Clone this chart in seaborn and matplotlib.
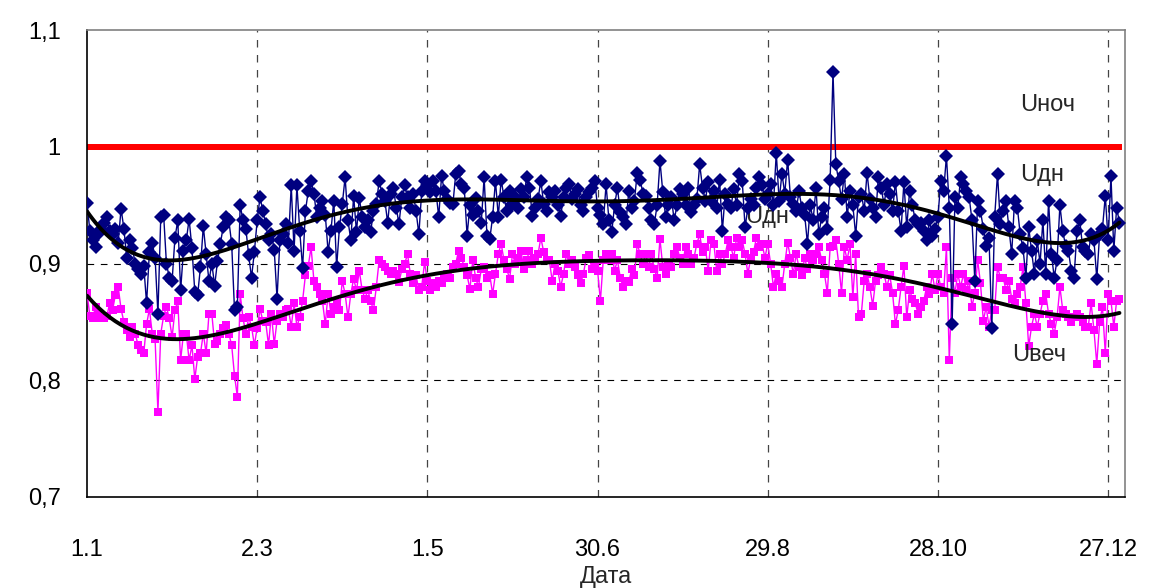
import matplotlib
matplotlib.use("Agg")
import matplotlib.pyplot as plt
import numpy as np
import seaborn as sns

sns.set_theme(style="white")
plt.rcParams["font.family"] = ["Liberation Sans", "DejaVu Sans"]

# daily values, 1 Jan .. 31 Dec (thousandths of nominal voltage)
u_dn = [
    952, 928, 920, 914, 925, 930, 935, 940, 928, 925,
    930, 918, 947, 930, 905, 920, 913, 900, 895, 891,
    898, 866, 910, 918, 905, 857, 940, 942, 900, 888,
    885, 922, 937, 877, 911, 920, 938, 913, 876, 873,
    897, 932, 908, 885, 900, 881, 902, 917, 931, 940,
    937, 917, 860, 863, 950, 937, 930, 907, 888, 910,
    937, 957, 945, 934, 920, 925, 912, 870, 920, 925,
    934, 918, 967, 911, 967, 928, 896, 945, 962, 971,
    960, 940, 948, 954, 942, 910, 928, 954, 897, 931,
    951, 974, 937, 920, 958, 927, 956, 940, 931, 937,
    927, 945, 951, 971, 960, 954, 935, 960, 965, 948,
    934, 957, 967, 957, 948, 960, 945, 925, 962, 971,
    967, 961, 971, 962, 940, 975, 962, 955, 952, 951,
    977, 979, 968, 965, 924, 950, 942, 956, 945, 935,
    974, 924, 921, 940, 971, 940, 972, 957, 945, 962,
    951, 957, 948, 964, 957, 974, 965, 941, 948, 955,
    971, 951, 945, 961, 957, 962, 950, 941, 957, 965,
    968, 955, 960, 964, 950, 945, 957, 961, 965, 971,
    948, 942, 934, 968, 937, 927, 950, 965, 944, 940,
    934, 962, 948, 954, 978, 972, 960, 958, 948, 937,
    934, 950, 988, 961, 940, 950, 957, 937, 950, 964,
    960, 950, 965, 944, 950, 955, 985, 965, 954, 970,
    954, 962, 948, 972, 928, 960, 951, 948, 964, 950,
    977, 971, 931, 948, 955, 950, 965, 974, 967, 955,
    960, 968, 950, 995, 954, 977, 960, 989, 957, 951,
    945, 962, 948, 942, 917, 950, 937, 965, 925, 940,
    948, 930, 972, 1064, 985, 971, 955, 977, 940, 962,
    950, 924, 957, 960, 945, 978, 955, 948, 940, 974,
    965, 950, 968, 960, 945, 970, 945, 928, 970, 931,
    962, 950, 937, 934, 935, 928, 920, 937, 924, 930,
    940, 971, 962, 992, 948, 848, 957, 948, 974, 968,
    962, 957, 937, 885, 954, 945, 930, 915, 922, 845,
    940, 977, 934, 945, 954, 931, 908, 954, 948, 925,
    913, 888, 931, 911, 891, 920, 900, 937, 891, 954,
    908, 888, 903, 950, 928, 915, 911, 894, 888, 928,
    937, 914, 911, 908, 925, 920, 887, 925, 930, 958,
    920, 975, 911, 948, 935,
]

u_vech = [
    875, 855, 853, 863, 858, 853, 853, 855, 866, 860,
    873, 880, 861, 850, 843, 837, 846, 840, 830, 826,
    823, 848, 861, 840, 835, 773, 840, 855, 863, 853,
    837, 860, 868, 817, 840, 840, 817, 830, 801, 820,
    823, 840, 823, 857, 857, 831, 834, 840, 845, 847,
    840, 830, 804, 786, 874, 853, 840, 854, 846, 830,
    845, 861, 851, 850, 830, 857, 831, 851, 857, 854,
    860, 861, 846, 866, 846, 854, 868, 890, 898, 914,
    885, 880, 874, 868, 848, 874, 857, 863, 866, 860,
    885, 874, 854, 874, 887, 877, 894, 877, 870, 877,
    868, 860, 880, 903, 900, 897, 894, 891, 894, 891,
    884, 895, 900, 908, 891, 883, 890, 877, 880, 901,
    885, 877, 883, 880, 885, 883, 890, 891, 888, 897,
    900, 911, 905, 897, 890, 878, 903, 888, 880, 895,
    897, 888, 890, 874, 891, 908, 917, 903, 895, 887,
    908, 900, 905, 911, 895, 903, 911, 900, 905, 908,
    922, 910, 903, 903, 885, 900, 894, 880, 891, 908,
    900, 903, 897, 890, 883, 891, 905, 907, 895, 900,
    894, 868, 903, 908, 903, 908, 894, 903, 888, 880,
    885, 884, 895, 890, 917, 908, 900, 908, 897, 908,
    895, 888, 921, 897, 891, 900, 897, 908, 914, 905,
    900, 914, 908, 900, 905, 917, 925, 910, 914, 894,
    920, 917, 894, 908, 900, 908, 920, 914, 905, 922,
    914, 920, 908, 891, 905, 910, 922, 914, 917, 905,
    917, 900, 880, 891, 885, 880, 900, 918, 905, 891,
    908, 897, 890, 905, 895, 908, 903, 908, 914, 903,
    891, 875, 914, 915, 920, 900, 875, 914, 903, 917,
    871, 908, 854, 857, 885, 891, 880, 864, 885, 890,
    897, 891, 880, 890, 875, 848, 860, 880, 898, 854,
    877, 870, 866, 857, 863, 868, 880, 874, 891, 877,
    891, 880, 875, 914, 817, 888, 875, 891, 880, 891,
    877, 885, 863, 875, 903, 883, 851, 863, 846, 860,
    860, 897, 888, 888, 877, 885, 870, 866, 874, 880,
    897, 866, 829, 846, 857, 846, 857, 868, 874, 857,
    848, 840, 854, 880, 860, 857, 854, 850, 854, 857,
    854, 850, 846, 846, 866, 843, 814, 850, 863, 823,
    874, 868, 846, 868, 870,
]

u_noch_level = 1.0

tick_days = [0, 60, 120, 180, 240, 300, 360]
tick_labels = ["1.1", "2.3", "1.5", "30.6", "29.8", "28.10", "27.12"]
y_ticks = [0.7, 0.8, 0.9, 1.0, 1.1]
y_tick_labels = ["0,7", "0,8", "0,9", "1", "1,1"]

days = np.arange(len(u_dn))
dn = np.array(u_dn) / 1000
vech = np.array(u_vech) / 1000
noch = np.full(len(days), u_noch_level)

# polynomial trend lines (6th order, as in the spreadsheet)
t = days / days.max()
trend_dn = np.polyval(np.polyfit(t, dn, 6), t)
trend_vech = np.polyval(np.polyfit(t, vech, 6), t)

fig = plt.figure(figsize=(11.54, 5.88), dpi=100)
ax = fig.add_axes([0.0754, 0.1548, 0.8996, 0.794])

sns.lineplot(x=days, y=noch, ax=ax, color="#FF0000", linewidth=2,
             marker="s", markersize=4.2, markeredgewidth=0, zorder=2)
sns.lineplot(x=days, y=vech, ax=ax, color="#FF00FF", linewidth=1,
             marker="s", markersize=6, markeredgewidth=0, zorder=3)
sns.lineplot(x=days, y=dn, ax=ax, color="#000080", linewidth=1,
             marker="D", markersize=7.5, markeredgewidth=0, zorder=4)
sns.lineplot(x=days, y=trend_dn, ax=ax, color="black", linewidth=2.8, zorder=5)
sns.lineplot(x=days, y=trend_vech, ax=ax, color="black", linewidth=2.8, zorder=5)

ax.set_xlim(0, 366)
ax.set_ylim(0.7, 1.1)
ax.set_xticks(tick_days)
ax.set_xticklabels(tick_labels)
ax.set_yticks(y_ticks)
ax.set_yticklabels(y_tick_labels)
ax.tick_params(axis="both", labelsize=17, colors="black", direction="out",
               length=5, width=1)
ax.tick_params(axis="x", pad=25)
ax.tick_params(axis="y", pad=14)

for yv in [0.8, 0.9]:
    ax.axhline(yv, color="black", linewidth=0.8, dashes=(6, 6), zorder=1)
for xv in tick_days[1:]:
    ax.axvline(xv, color="#444444", linewidth=0.9, dashes=(6, 6), zorder=1)

ax.spines["left"].set_color("black")
ax.spines["bottom"].set_color("black")
ax.spines["top"].set_color("#808080")
ax.spines["right"].set_color("#808080")
for s in ax.spines.values():
    s.set_linewidth(1.2)

ax.set_xlabel("Дата", fontsize=17, labelpad=4)
ax.set_ylabel("")

ax.text(329, 1.036, "Uноч", fontsize=17, va="center")
ax.text(329, 0.976, "Uдн", fontsize=17, va="center")
ax.text(232, 0.940, "Uдн", fontsize=17, va="center")
ax.text(326, 0.822, "Uвеч", fontsize=17, va="center")

plt.savefig("out.png", dpi=100)
plt.close(fig)
